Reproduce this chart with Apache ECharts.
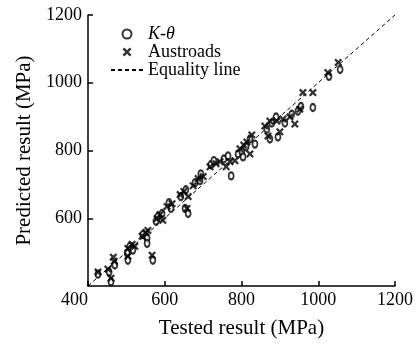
<!DOCTYPE html>
<html><head><meta charset="utf-8">
<script src="https://cdn.jsdelivr.net/npm/echarts@6/dist/echarts.min.js"></script>
<style>html,body{margin:0;padding:0;background:#fff}#c{width:416px;height:344px}</style>
</head><body><div id="c"></div>
<script>
var xTicks = [400, 600, 800, 1000, 1200];
var yTicks = [400, 600, 800, 1000, 1200];
var seriesNames = ['K-θ', 'Austroads', 'Equality line'];
var kTheta = [[426,435],[455,441],[460,412],[470,462],[502,497],[504,476],[509,517],[517,506],[543,552],[554,541],[554,526],[569,476],[577,591],[582,605],[593,614],[611,646],[616,629],[642,664],[655,684],[653,629],[661,614],[679,705],[692,711],[694,731],[720,758],[728,770],[754,775],[773,725],[765,784],[791,790],[801,796],[812,811],[822,834],[835,819],[804,781],[866,863],[879,881],[874,834],[895,840],[890,899],[913,881],[931,907],[947,916],[955,930],[986,927],[1028,1019],[1057,1039]];
var austroads = [[426,441],[452,450],[460,423],[468,473],[466,485],[504,511],[515,523],[504,488],[522,517],[541,547],[551,558],[556,564],[567,491],[580,599],[588,611],[595,594],[606,635],[619,643],[640,670],[650,679],[661,664],[658,629],[674,696],[687,717],[700,723],[718,752],[734,761],[744,767],[760,752],[770,767],[783,770],[796,805],[806,816],[814,825],[827,846],[822,790],[861,872],[874,887],[869,843],[900,855],[892,887],[908,893],[926,899],[939,878],[952,922],[960,971],[986,971],[1025,1030],[1052,1060]];
var equality = [[400,400],[1200,1200]];

var FONT = 'Liberation Serif';
var xPath = 'path://M0,2L2,0L5,3L8,0L10,2L7,5L10,8L8,10L5,7L2,10L0,8L3,5Z';
var chart = echarts.init(document.getElementById('c'), null, {renderer:'canvas'});
chart.setOption({
  animation:false,
  backgroundColor:'#fff',
  grid:{left:88,right:21,top:15,bottom:56,containLabel:false},
  legend:{
    orient:'vertical', left:105, top:20, itemWidth:32, itemHeight:9, itemGap:0,
    data:[{name:seriesNames[0]},{name:seriesNames[1]},{name:seriesNames[2], itemStyle:{opacity:0}}],
    textStyle:{fontFamily:FONT,fontSize:18,color:'#000',lineHeight:17,
      rich:{i:{fontFamily:FONT,fontSize:18,fontStyle:'italic',color:'#000'},n:{fontFamily:FONT,fontSize:18,color:'#000'}}},
    formatter:function(n){ if(n==='K-θ') return '{i|K}{n|-}{i|θ}'; return n; }
  },
  xAxis:{
    type:'value', min:xTicks[0], max:xTicks[xTicks.length-1], interval:200,
    name:'Tested result (MPa)', nameLocation:'middle', nameGap:32,
    nameTextStyle:{fontFamily:FONT,fontSize:21,color:'#000'},
    axisLine:{lineStyle:{color:'#000',width:1.5}},
    axisTick:{inside:true,length:5,lineStyle:{color:'#000',width:1.5}},
    axisLabel:{fontFamily:FONT,fontSize:18,color:'#000',margin:5,alignMinLabel:'right',formatter:function(v){return String(v);}},
    splitLine:{show:false}
  },
  yAxis:{
    type:'value', min:yTicks[0], max:yTicks[yTicks.length-1], interval:200,
    name:'Predicted result (MPa)', nameLocation:'middle', nameGap:48,
    nameTextStyle:{fontFamily:FONT,fontSize:21,color:'#000'},
    axisLine:{lineStyle:{color:'#000',width:1.5}},
    axisTick:{inside:true,length:5,lineStyle:{color:'#000',width:1.5}},
    axisLabel:{fontFamily:FONT,fontSize:18,color:'#000',margin:6,showMinLabel:false,formatter:function(v){return String(v);}},
    splitLine:{show:false}
  },
  series:[
    {name:seriesNames[0], type:'scatter', data:kTheta, symbol:'emptyCircle', symbolSize:[5,7],
     itemStyle:{color:'#000',borderColor:'#000',borderWidth:1.3}, z:3},
    {name:seriesNames[1], type:'scatter', data:austroads, symbol:xPath, symbolSize:8,
     itemStyle:{color:'#000'}, z:4},
    {name:seriesNames[2], type:'line', data:equality, symbol:'none', showSymbol:false, silent:true,
     lineStyle:{color:'#000',width:1,type:[4,3]}, itemStyle:{color:'#000'}, z:2}
  ]
});
</script></body></html>
